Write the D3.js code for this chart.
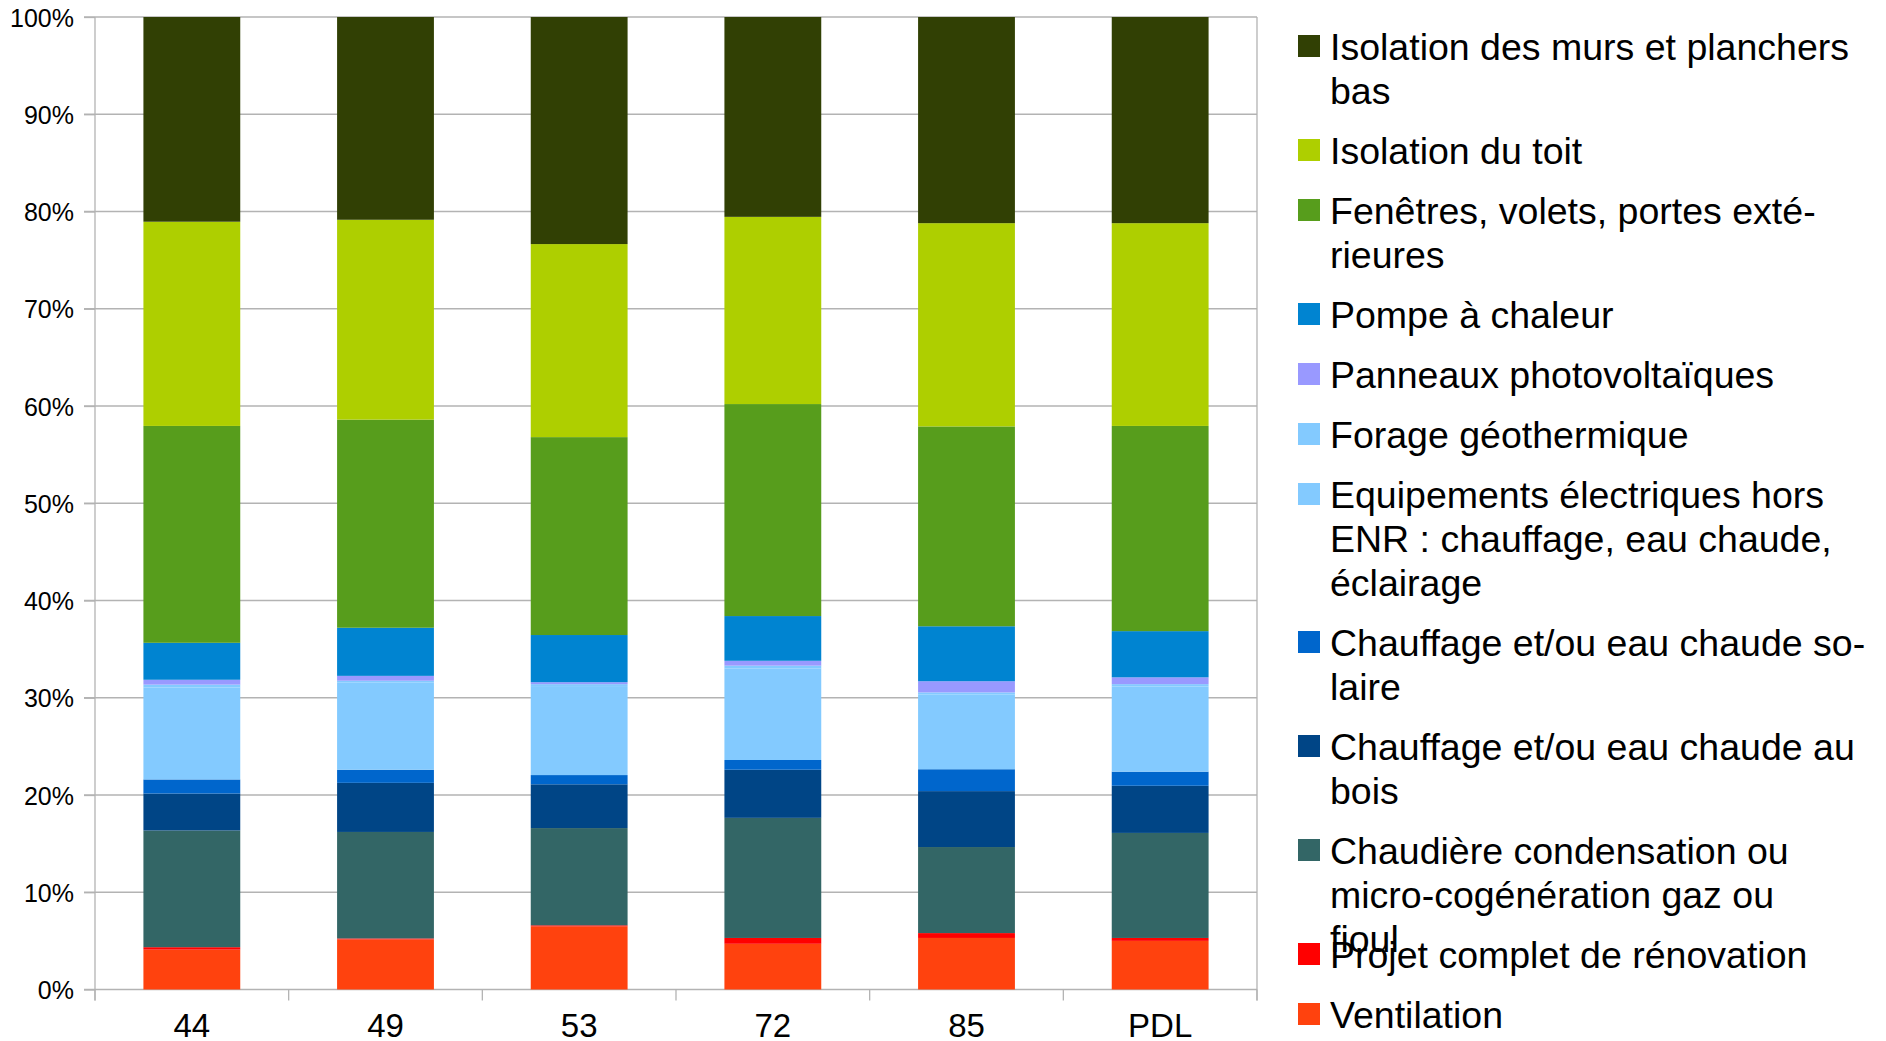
<!DOCTYPE html>
<html>
<head>
<meta charset="utf-8">
<script src="https://cdn.jsdelivr.net/npm/d3@7"></script>
<style>
  html, body { margin: 0; padding: 0; background: #ffffff; }
  svg { display: block; font-family: "Liberation Sans", Arial, sans-serif; }
</style>
</head>
<body>
<svg id="chart" width="1886" height="1041"></svg>
<script>
// Départements (and the Pays de la Loire region total)
const categories = ["44", "49", "53", "72", "85", "PDL"];

// Share of works per category (%), stacked from bottom to top
const ventilation   = [4.1, 5.15, 6.5, 4.7, 5.3, 5.0];
const projetComplet = [0.25, 0.1, 0.1, 0.6, 0.5, 0.3];
const chaudiere     = [12.0, 10.95, 10.0, 12.35, 8.85, 10.8];
const boisChauffage = [3.8, 5.05, 4.5, 4.95, 5.75, 4.85];
const solaire       = [1.45, 1.35, 0.95, 1.0, 2.25, 1.45];
const equipElec     = [9.45, 8.95, 9.15, 9.4, 7.7, 8.75];
const forage        = [0.3, 0.2, 0.2, 0.3, 0.2, 0.25];
const panneaux      = [0.5, 0.5, 0.2, 0.5, 1.15, 0.7];
const pompe         = [3.8, 4.95, 4.85, 4.6, 5.65, 4.75];
const fenetres      = [22.3, 21.4, 20.35, 21.8, 20.55, 21.1];
const toit          = [21.0, 20.55, 19.85, 19.25, 20.9, 20.85];
const murs          = [21.05, 20.85, 23.35, 20.55, 21.2, 21.2];

// Series keys, bottom to top
const seriesKeys = ["ventilation", "projet", "chaudiere", "bois", "solaire",
  "equip", "forage", "panneaux", "pompe", "fenetres", "toit", "murs"];
const seriesValues = [ventilation, projetComplet, chaudiere, boisChauffage, solaire,
  equipElec, forage, panneaux, pompe, fenetres, toit, murs];
const seriesColors = ["#ff420e", "#ff0000", "#336666", "#004586", "#0066cc",
  "#83caff", "#83caff", "#9999ff", "#0084d1", "#579d1c", "#aecf00", "#314004"];

// Legend labels as wrapped lines, same order as seriesKeys
const legendLabels = [
  ["Ventilation"],
  ["Projet complet de rénovation"],
  ["Chaudière condensation ou", "micro-cogénération gaz ou", "fioul"],
  ["Chauffage et/ou eau chaude au", "bois"],
  ["Chauffage et/ou eau chaude so-", "laire"],
  ["Equipements électriques hors", "ENR : chauffage, eau chaude,", "éclairage"],
  ["Forage géothermique"],
  ["Panneaux photovoltaïques"],
  ["Pompe à chaleur"],
  ["Fenêtres, volets, portes exté-", "rieures"],
  ["Isolation du toit"],
  ["Isolation des murs et planchers", "bas"]
];

// Y axis ticks
const yTicks = [0, 0.1, 0.2, 0.3, 0.4, 0.5, 0.6, 0.7, 0.8, 0.9, 1.0];

// ---- layout ----
const plot = { left: 95, right: 1257, top: 17, bottom: 989.5 };
const gridColor = "#b3b3b3";

const svg = d3.select("#chart");
svg.append("rect").attr("width", 1886).attr("height", 1041).attr("fill", "#ffffff");

const table = categories.map((c, i) => {
  const row = { category: c };
  seriesKeys.forEach((k, s) => { row[k] = seriesValues[s][i]; });
  return row;
});

const stacked = d3.stack().keys(seriesKeys).offset(d3.stackOffsetExpand)(table);

const cell = d3.scaleBand().domain(categories).range([plot.left, plot.right]).padding(0);
const x = d3.scaleBand().domain(categories).range([plot.left, plot.right])
  .paddingInner(0.5).paddingOuter(0.25);
const y = d3.scaleLinear().domain([0, 1]).range([plot.bottom, plot.top]);

// Horizontal gridlines
svg.append("g")
  .selectAll("line")
  .data(yTicks)
  .join("line")
  .attr("x1", plot.left - 11)
  .attr("x2", plot.right)
  .attr("y1", d => y(d))
  .attr("y2", d => y(d))
  .attr("stroke", gridColor)
  .attr("stroke-width", 1.3);

// Right frame line
svg.append("line")
  .attr("x1", plot.right).attr("x2", plot.right)
  .attr("y1", plot.top).attr("y2", plot.bottom + 11)
  .attr("stroke", gridColor).attr("stroke-width", 1.3);

// Y axis
const yAxis = svg.append("g")
  .attr("transform", `translate(${plot.left},0)`)
  .call(d3.axisLeft(y).tickValues(yTicks).tickFormat(d3.format(".0%"))
    .tickSize(11).tickPadding(10));
yAxis.select(".domain").remove();
yAxis.selectAll(".tick line").attr("stroke", gridColor).attr("stroke-width", 1.3);
yAxis.selectAll(".tick text")
  .attr("fill", "#000000")
  .attr("font-size", 25)
  .attr("font-family", "Liberation Sans, Arial, sans-serif")
  .attr("dy", "0.36em");
yAxis.append("line")
  .attr("x1", 0).attr("x2", 0)
  .attr("y1", plot.top).attr("y2", plot.bottom + 11)
  .attr("stroke", gridColor).attr("stroke-width", 1.3);

// X axis: labels centred on each category, ticks on the category boundaries
const xAxis = svg.append("g")
  .attr("transform", `translate(0,${plot.bottom})`)
  .call(d3.axisBottom(cell).tickSize(0).tickPadding(0));
xAxis.select(".domain").remove();
xAxis.selectAll(".tick text")
  .attr("fill", "#000000")
  .attr("font-size", 33)
  .attr("font-family", "Liberation Sans, Arial, sans-serif")
  .attr("dy", null)
  .attr("y", 47.5);

const boundaries = categories.map(c => cell(c)).concat([cell(categories[categories.length - 1]) + cell.bandwidth()]);
svg.append("g")
  .selectAll("line")
  .data(boundaries)
  .join("line")
  .attr("x1", d => d).attr("x2", d => d)
  .attr("y1", plot.bottom).attr("y2", plot.bottom + 11)
  .attr("stroke", gridColor).attr("stroke-width", 1.3);

// Stacked bars
svg.append("g")
  .selectAll("g")
  .data(stacked)
  .join("g")
  .attr("fill", (d, i) => seriesColors[i])
  .selectAll("rect")
  .data(d => d)
  .join("rect")
  .attr("x", d => x(d.data.category))
  .attr("width", x.bandwidth())
  .attr("y", d => y(d[1]))
  .attr("height", d => y(d[0]) - y(d[1]));

// Legend, top to bottom (reverse of stacking order)
const legendSlotLines = [2, 1, 2, 1, 1, 1, 3, 2, 2, 2, 1, 1];
const lineHeight = 44, slotGap = 16, legendTop = 60;
const legendOrder = d3.range(seriesKeys.length).reverse();
let baseline = legendTop;
const legend = svg.append("g");
legendOrder.forEach((s, k) => {
  const g = legend.append("g");
  g.append("rect")
    .attr("x", 1298).attr("y", baseline - 25)
    .attr("width", 22).attr("height", 22)
    .attr("fill", seriesColors[s]);
  const t = g.append("text")
    .attr("x", 1330).attr("y", baseline)
    .attr("font-size", 37.5)
    .attr("fill", "#000000");
  legendLabels[s].forEach((line, j) => {
    t.append("tspan").attr("x", 1330).attr("y", baseline + j * lineHeight).text(line);
  });
  baseline += legendSlotLines[k] * lineHeight + slotGap;
});
</script>
</body>
</html>
